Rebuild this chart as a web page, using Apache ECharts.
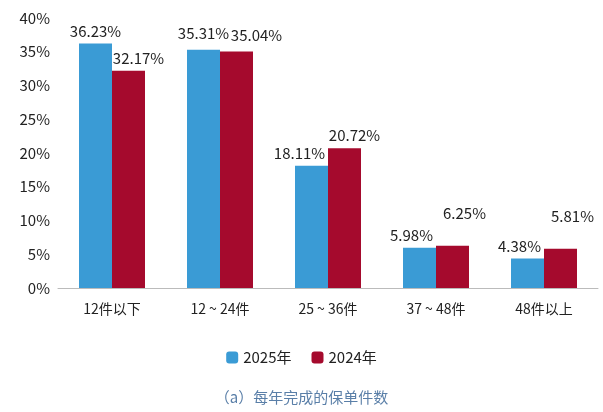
<!DOCTYPE html>
<html><head><meta charset="utf-8">
<script src="https://cdn.jsdelivr.net/npm/echarts@6/dist/echarts.min.js"></script>
<style>html,body{margin:0;padding:0;background:#fff}#c{width:603px;height:412px}</style>
</head><body><div id="c"></div>
<script>
const categories = ['12件以下', '12 ~ 24件', '25 ~ 36件', '37 ~ 48件', '48件以上'];
const s2025 = [36.23, 35.31, 18.11, 5.98, 4.38];
const s2024 = [32.17, 35.04, 20.72, 6.25, 5.81];
const yTicks = [0, 5, 10, 15, 20, 25, 30, 35, 40];
const off2025 = [[0, 0], [0, -4], [-12, 0], [-8, 0], [-8, 0]];
const off2024 = [[10, 0], [20, -4], [10, 0], [12, -20], [12, -20]];
const fontF = '"Noto Sans CJK SC","Noto Sans",sans-serif';
function mk(vals, offs) {
  return vals.map((v, i) => ({ value: v, label: { offset: offs[i] } }));
}
const chart = echarts.init(document.getElementById('c'));
chart.setOption({
  animation: false,
  textStyle: { fontFamily: fontF },
  title: { text: '（a）每年完成的保单件数', left: 'center', bottom: 2,
    textStyle: { color: '#5a7fa8', fontSize: 15, fontWeight: 'normal', fontFamily: fontF } },
  legend: { bottom: 42, itemWidth: 12, itemHeight: 12, itemGap: 20,
    textStyle: { fontSize: 15, color: '#222' },
    data: ['2025年', '2024年'] },
  grid: { left: 58, right: 5, top: 18, bottom: 124 },
  xAxis: { type: 'category', data: categories,
    axisLine: { lineStyle: { color: '#bbb' } }, axisTick: { show: false },
    axisLabel: { color: '#222', fontSize: 14, margin: 14 } },
  yAxis: { type: 'value', min: 0, max: 40, interval: 5,
    splitLine: { show: false },
    axisLabel: { color: '#222', fontSize: 15, formatter: v => yTicks.includes(v) ? v + '%' : '' } },
  series: [
    { name: '2025年', type: 'bar', data: mk(s2025, off2025), barWidth: 33, barGap: '0%',
      itemStyle: { color: '#3a9bd5' },
      label: { show: true, position: 'top', fontSize: 15, color: '#222', formatter: p => p.value.toFixed(2) + '%' } },
    { name: '2024年', type: 'bar', data: mk(s2024, off2024), barWidth: 33,
      itemStyle: { color: '#a50a2d' },
      label: { show: true, position: 'top', fontSize: 15, color: '#222', formatter: p => p.value.toFixed(2) + '%' } }
  ]
});
</script></body></html>
